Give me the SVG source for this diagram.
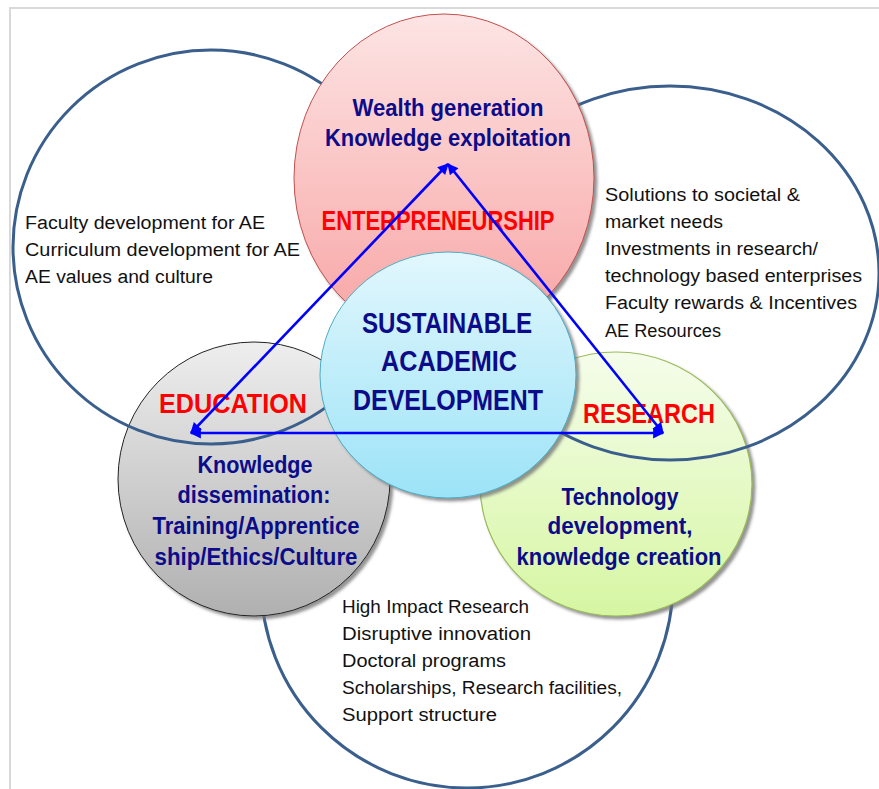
<svg xmlns="http://www.w3.org/2000/svg" width="879" height="789" viewBox="0 0 879 789">
<defs>
<style>
.big{fill:none;stroke:#3b5f8c;stroke-width:3}
.txt{font-family:"Liberation Sans",Arial,sans-serif;font-size:18px;fill:#111}
.nv{font-family:"Liberation Sans",Arial,sans-serif;font-weight:bold;fill:#0c0c8a}
.rd{font-family:"Liberation Sans",Arial,sans-serif;font-weight:bold;fill:#ff0000;font-size:28px}
.conn{stroke:#0000ff;stroke-width:2.6;fill:none;marker-start:url(#ah);marker-end:url(#ah)}
</style>
<marker id="ah" viewBox="0 0 10 10" refX="9" refY="5" markerUnits="userSpaceOnUse" markerWidth="13" markerHeight="11" orient="auto-start-reverse">
<path d="M0,0 L10,5 L0,10 z" fill="#0000ff"/>
</marker>
<linearGradient id="gPink" x1="0" y1="0" x2="0" y2="1"><stop offset="0" stop-color="#fde4e4"/><stop offset="1" stop-color="#f8a3a3"/></linearGradient>
<linearGradient id="gBlue" x1="0" y1="0" x2="0" y2="1"><stop offset="0" stop-color="#e2f7fd"/><stop offset="1" stop-color="#9ce3f7"/></linearGradient>
<linearGradient id="gGray" x1="0" y1="0" x2="0" y2="1"><stop offset="0" stop-color="#eeeeee"/><stop offset="1" stop-color="#b0b0b0"/></linearGradient>
<linearGradient id="gGreen" x1="0" y1="0" x2="0" y2="1"><stop offset="0" stop-color="#f5fdeb"/><stop offset="1" stop-color="#d6f6a2"/></linearGradient>
<filter id="sh" x="-10%" y="-10%" width="125%" height="125%">
<feGaussianBlur in="SourceAlpha" stdDeviation="1.8"/>
<feOffset dx="3" dy="3" result="o"/>
<feFlood flood-color="#707070" flood-opacity="0.75"/>
<feComposite in2="o" operator="in" result="s"/>
<feMerge><feMergeNode in="s"/><feMergeNode in="SourceGraphic"/></feMerge>
</filter>
</defs>
<rect width="879" height="789" fill="#ffffff"/>
<g id="frame" fill="none" stroke="#d9d9d9" stroke-width="2">
<path d="M10,789 L10,8 L879,8"/>
</g>
<g id="ellipse-bottom">
<ellipse class="big" cx="467" cy="582" rx="206" ry="206"/>
<text class="txt" x="342" y="613" textLength="187" lengthAdjust="spacingAndGlyphs">High Impact Research</text>
<text class="txt" x="342" y="640" textLength="189" lengthAdjust="spacingAndGlyphs">Disruptive innovation</text>
<text class="txt" x="342" y="667" textLength="164" lengthAdjust="spacingAndGlyphs">Doctoral programs</text>
<text class="txt" x="342" y="694" textLength="280" lengthAdjust="spacingAndGlyphs">Scholarships, Research facilities,</text>
<text class="txt" x="342" y="721" textLength="155" lengthAdjust="spacingAndGlyphs">Support structure</text>
</g>
<g id="node-education">
<ellipse cx="254" cy="479" rx="136" ry="137" fill="url(#gGray)" stroke="#222" stroke-width="1" filter="url(#sh)"/>
<text class="rd" x="233" y="413" text-anchor="middle" textLength="148" lengthAdjust="spacingAndGlyphs">EDUCATION</text>
<text class="nv" font-size="23" x="255" y="473" text-anchor="middle" textLength="115" lengthAdjust="spacingAndGlyphs">Knowledge</text>
<text class="nv" font-size="23" x="254" y="503" text-anchor="middle" textLength="153" lengthAdjust="spacingAndGlyphs">dissemination:</text>
<text class="nv" font-size="23" x="256" y="534" text-anchor="middle" textLength="207" lengthAdjust="spacingAndGlyphs">Training/Apprentice</text>
<text class="nv" font-size="23" x="256" y="565" text-anchor="middle" textLength="203" lengthAdjust="spacingAndGlyphs">ship/Ethics/Culture</text>
</g>
<g id="node-research">
<ellipse cx="616" cy="484" rx="136" ry="132" fill="url(#gGreen)" stroke="#9bbb59" stroke-width="1.2" filter="url(#sh)"/>
<text class="rd" x="649" y="423" text-anchor="middle" textLength="132" lengthAdjust="spacingAndGlyphs">RESEARCH</text>
<text class="nv" font-size="23" x="620" y="505" text-anchor="middle" textLength="117" lengthAdjust="spacingAndGlyphs">Technology</text>
<text class="nv" font-size="23" x="620" y="534" text-anchor="middle" textLength="145" lengthAdjust="spacingAndGlyphs">development,</text>
<text class="nv" font-size="23" x="619" y="565" text-anchor="middle" textLength="205" lengthAdjust="spacingAndGlyphs">knowledge creation</text>
</g>
<g id="ellipse-left">
<ellipse class="big" cx="211" cy="247" rx="198" ry="197"/>
<text class="txt" x="25" y="229" textLength="240" lengthAdjust="spacingAndGlyphs">Faculty development for AE</text>
<text class="txt" x="25" y="256" textLength="275" lengthAdjust="spacingAndGlyphs">Curriculum development for AE</text>
<text class="txt" x="25" y="283" textLength="188" lengthAdjust="spacingAndGlyphs">AE values and culture</text>
</g>
<g id="ellipse-right">
<ellipse class="big" cx="670" cy="273" rx="209" ry="187"/>
<text class="txt" x="605" y="201" textLength="195" lengthAdjust="spacingAndGlyphs">Solutions to societal &amp;</text>
<text class="txt" x="605" y="228" textLength="118" lengthAdjust="spacingAndGlyphs">market needs</text>
<text class="txt" x="605" y="255" textLength="213" lengthAdjust="spacingAndGlyphs">Investments in research/</text>
<text class="txt" x="605" y="282" textLength="257" lengthAdjust="spacingAndGlyphs">technology based enterprises</text>
<text class="txt" x="605" y="309" textLength="252" lengthAdjust="spacingAndGlyphs">Faculty rewards &amp; Incentives</text>
<text class="txt" x="605" y="337" textLength="116" lengthAdjust="spacingAndGlyphs">AE Resources</text>
</g>
<g id="node-entrepreneurship">
<ellipse cx="444" cy="178" rx="150" ry="164" fill="url(#gPink)" stroke="#c0504d" stroke-width="1" filter="url(#sh)"/>
<text class="nv" font-size="24" x="448" y="116" text-anchor="middle" textLength="191" lengthAdjust="spacingAndGlyphs">Wealth generation</text>
<text class="nv" font-size="24" x="448" y="146" text-anchor="middle" textLength="246" lengthAdjust="spacingAndGlyphs">Knowledge exploitation</text>
<text class="rd" x="438" y="230" text-anchor="middle" textLength="233" lengthAdjust="spacingAndGlyphs">ENTERPRENEURSHIP</text>
</g>
<g id="node-center">
<ellipse cx="448" cy="375" rx="128" ry="123" fill="url(#gBlue)" stroke="#4bacc6" stroke-width="1" filter="url(#sh)"/>
<text class="nv" font-size="29" x="447" y="333" text-anchor="middle" textLength="170" lengthAdjust="spacingAndGlyphs">SUSTAINABLE</text>
<text class="nv" font-size="29" x="449" y="371" text-anchor="middle" textLength="136" lengthAdjust="spacingAndGlyphs">ACADEMIC</text>
<text class="nv" font-size="29" x="448" y="410" text-anchor="middle" textLength="190" lengthAdjust="spacingAndGlyphs">DEVELOPMENT</text>
</g>
<g id="connectors">
<line class="conn" x1="191" y1="433" x2="448" y2="164"/>
<line class="conn" x1="448" y1="164" x2="663" y2="433"/>
<line class="conn" x1="191" y1="433" x2="663" y2="433"/>
</g>
</svg>
